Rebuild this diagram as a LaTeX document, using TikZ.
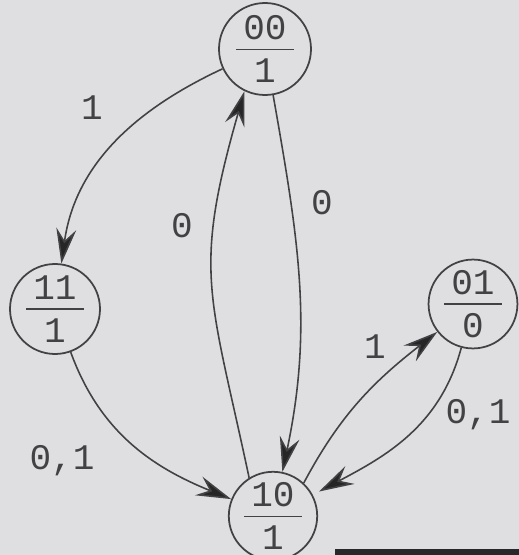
\documentclass[tikz,border=0pt]{standalone}
\usepackage{fontspec}
\setmonofont{Liberation Mono}
\usetikzlibrary{arrows.meta}
\definecolor{paper}{RGB}{223,223,225}
\definecolor{ink}{RGB}{66,66,68}
\definecolor{edgebar}{RGB}{40,40,42}
% state text: output over next state
\newcommand{\moore}[2]{\vbox{\hbox to 1.15cm{\hfil#1\hfil}\kern5pt\hrule height 0.9pt\kern5pt\hbox to 1.15cm{\hfil#2\hfil}}}
\tikzset{
  mstate/.style={draw=ink, line width=1pt, circle, inner sep=0pt, text=ink,
    font=\ttfamily\fontsize{20.5}{24}\selectfont},
  trans/.style={draw=ink, line width=0.9pt,
    -{Stealth[length=7mm,width=4mm,inset=2.4mm,fill=black!85]}},
  lbl/.style={text=ink, inner sep=0pt, font=\ttfamily\fontsize{20.5}{24}\selectfont}
}
\begin{document}
\begin{tikzpicture}[x=1cm,y=1cm]
\fill[paper] (0,0) rectangle (10.38,11.10);
\useasboundingbox (0,0) rectangle (10.38,11.10);
\fill[edgebar] (6.70,0) rectangle (10.38,0.12);

\node[mstate, minimum size=1.84cm] (s00) at (5.30,10.12) {\moore{00}{1}};
\node[mstate, minimum size=1.80cm] (s11) at (1.10,4.92) {\moore{11}{1}};
\node[mstate, minimum size=1.60cm] (s01) at (9.46,5.02) {\moore{01}{0}};
\node[mstate, minimum size=1.76cm] (s10) at (5.46,0.78) {\moore{10}{1}};

\draw[trans] (s00) to[out=205,in=82] (s11);
\draw[trans] (s10.122) to[out=102,in=-106,looseness=1.25] (s00.244);
\draw[trans] (s00) to[out=-80,in=78] (s10);
\draw[trans] (s11) to[out=-70,in=158] (s10);
\draw[trans] (s10.47) to[out=62,in=218] (s01);
\draw[trans, shorten >=4pt] (s01) to[out=255,in=28] (s10);

\node[lbl] (l1a) at (1.84,8.94) {1};
\node[lbl] (l0a) at (3.64,6.58) {0};
\node[lbl] (l0b) at (6.44,7.04) {0};
\node[lbl] (l01a) at (1.24,1.88) {0,1};
\node[lbl] (l1b) at (7.50,4.16) {1};
\node[lbl] (l01b) at (9.56,2.80) {0,1};
\end{tikzpicture}
\end{document}
